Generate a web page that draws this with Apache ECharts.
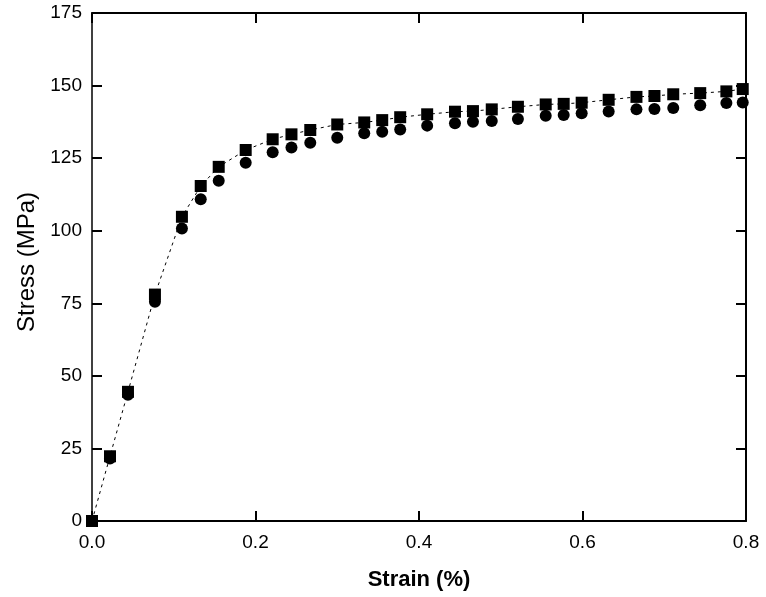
<!DOCTYPE html>
<html>
<head>
<meta charset="utf-8">
<script src="https://cdn.jsdelivr.net/npm/echarts@6/dist/echarts.min.js"></script>
<style>html,body{margin:0;padding:0;background:#fff;}#c{width:766px;height:597px;}</style>
</head>
<body>
<div id="c"></div>
<script>
var strain = [0, 0.022, 0.044, 0.077, 0.110, 0.133, 0.155, 0.188, 0.221, 0.244, 0.267, 0.300, 0.333, 0.355, 0.377, 0.410, 0.444, 0.466, 0.489, 0.521, 0.555, 0.577, 0.599, 0.632, 0.666, 0.688, 0.711, 0.744, 0.776, 0.796];
var stressSquare = [0, 22.3, 44.5, 78.0, 104.8, 115.4, 122.0, 127.8, 131.5, 133.2, 134.7, 136.6, 137.3, 138.1, 139.1, 140.1, 141.0, 141.2, 141.8, 142.7, 143.5, 143.7, 144.1, 145.1, 146.1, 146.4, 147.0, 147.4, 148.0, 148.8];
var stressCircle = [0, 21.5, 43.5, 75.5, 100.8, 110.8, 117.2, 123.4, 127.0, 128.7, 130.3, 132.0, 133.6, 134.1, 134.9, 136.2, 137.0, 137.5, 137.8, 138.5, 139.6, 139.9, 140.5, 141.1, 141.8, 141.9, 142.3, 143.2, 144.0, 144.2];
var xTicks = [0, 0.2, 0.4, 0.6, 0.8];
var yTicks = [0, 25, 50, 75, 100, 125, 150, 175];

function pairs(xs, ys) { return xs.map(function (x, i) { return [x, ys[i]]; }); }

var font = 'Liberation Sans, Arial, sans-serif';
var chart = echarts.init(document.getElementById('c'));
var axisBase = {
  type: 'value',
  splitLine: { show: false },
  axisTick: { inside: true, length: 10, lineStyle: { color: '#000', width: 2 } },
  minorTick: { show: false }
};
chart.setOption({
  animation: false,
  backgroundColor: '#fff',
  grid: { left: 92, right: 20, top: 13, bottom: 76 },
  xAxis: [
    Object.assign({}, axisBase, {
      min: 0, max: 0.8, interval: 0.2, position: 'bottom',
      axisLine: { onZero: false, lineStyle: { color: '#000', width: 2 } },
      axisLabel: { color: '#000', fontSize: 19, fontFamily: font, margin: 12,
        formatter: function (v) { return v.toFixed(1); } },
      name: 'Strain (%)', nameLocation: 'middle', nameGap: 48,
      nameTextStyle: { color: '#000', fontSize: 22, fontWeight: 'bold', fontFamily: font }
    }),
    Object.assign({}, axisBase, {
      min: 0, max: 0.8, interval: 0.2, position: 'top',
      axisLine: { onZero: false, lineStyle: { color: '#000', width: 2 } },
      axisLabel: { show: false }
    })
  ],
  yAxis: [
    Object.assign({}, axisBase, {
      min: 0, max: 175, interval: 25, position: 'left',
      axisLine: { show: true, onZero: false, lineStyle: { color: '#000', width: 1.5 } },
      axisLabel: { color: '#000', fontSize: 19, fontFamily: font, margin: 10 },
      name: 'Stress (MPa)', nameLocation: 'middle', nameGap: 52,
      nameTextStyle: { color: '#000', fontSize: 24, fontFamily: font, padding: [0, 0, 0, 10] }
    }),
    Object.assign({}, axisBase, {
      min: 0, max: 175, interval: 25, position: 'right',
      axisLine: { show: true, onZero: false, lineStyle: { color: '#000', width: 2 } },
      axisLabel: { show: false }
    })
  ],
  series: [
    {
      type: 'line', data: pairs(strain, stressSquare),
      symbol: 'rect', symbolSize: 12, showAllSymbol: true,
      itemStyle: { color: '#000' },
      lineStyle: { color: '#000', width: 1, type: [3, 4] },
      z: 3
    },
    {
      type: 'line', data: pairs(strain, stressCircle),
      symbol: 'circle', symbolSize: 12, showAllSymbol: true,
      itemStyle: { color: '#000' },
      lineStyle: { width: 0, opacity: 0 },
      z: 4
    }
  ]
});
</script>
</body>
</html>
